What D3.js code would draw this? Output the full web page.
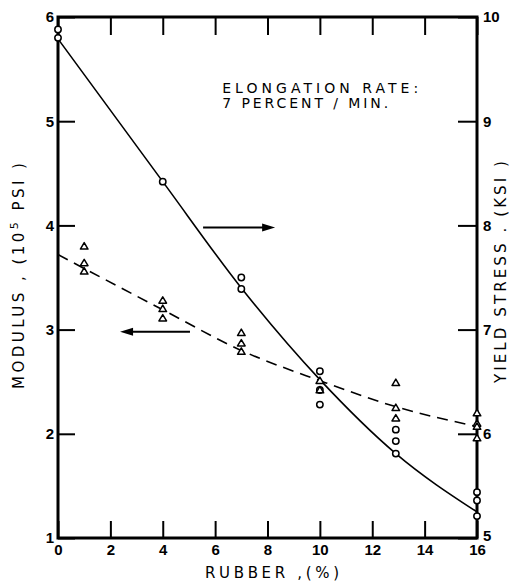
<!DOCTYPE html>
<html>
<head>
<meta charset="utf-8">
<script src="https://cdn.jsdelivr.net/npm/d3@7"></script>
<style>
  body { margin: 0; background: #fff; }
  svg { display: block; }
</style>
</head>
<body>
<div id="chart"></div>
<script>
// data
const rubberTicks = [0, 2, 4, 6, 8, 10, 12, 14, 16];
const modulusTicks = [1, 2, 3, 4, 5, 6];
const stressTicks = [5, 6, 7, 8, 9, 10];

// yield stress (ksi), circles, right axis
const stressPoints = [
  [0, 9.88], [0, 9.80],
  [4, 8.42],
  [7, 7.50], [7, 7.39],
  [10, 6.60], [10, 6.42], [10, 6.28],
  [12.9, 6.04], [12.9, 5.93], [12.9, 5.81],
  [16, 5.44], [16, 5.36], [16, 5.21]
];
// modulus (10^5 psi), triangles, left axis
const modulusPoints = [
  [1, 3.80], [1, 3.64], [1, 3.56],
  [4, 3.28], [4, 3.20], [4, 3.11],
  [7, 2.97], [7, 2.87], [7, 2.79],
  [10, 2.51], [10, 2.42],
  [12.9, 2.49], [12.9, 2.25], [12.9, 2.15],
  [16, 2.20], [16, 2.10], [16, 2.07], [16, 1.96]
];
// hand drawn fit curves
const stressFit = [[0, 9.79], [4, 8.42], [7, 7.40], [10, 6.52], [12.9, 5.81], [16, 5.25]];
const modulusFit = [[0, 3.72], [4, 3.19], [7, 2.80], [10, 2.51], [12.9, 2.26], [16, 2.07]];

const width = 517, height = 582;
const margin = {top: 17, right: 40, bottom: 44, left: 58};

const svg = d3.select("#chart").append("svg")
    .attr("width", width)
    .attr("height", height)
    .attr("font-family", "'DejaVu Sans', 'Liberation Sans', sans-serif");

const x = d3.scaleLinear().domain([0, 16]).range([margin.left, width - margin.right]);
const yL = d3.scaleLinear().domain([1, 6]).range([height - margin.bottom, margin.top]);
const yR = d3.scaleLinear().domain([5, 10]).range([height - margin.bottom, margin.top]);

const fmt = d3.format("d");

const tickFont = g => g
    .call(g => g.select(".domain").remove())
    .call(g => g.selectAll(".tick line").attr("stroke", "#000").attr("stroke-width", 2))
    .call(g => g.selectAll(".tick text")
        .attr("fill", "#000")
        .attr("font-family", "'Liberation Sans', Arial, sans-serif")
        .attr("font-size", 15)
        .attr("font-weight", "bold"));

// axes, ticks point inward
svg.append("g")
    .attr("transform", `translate(0,${yL(1)})`)
    .call(d3.axisBottom(x).tickValues(rubberTicks).tickFormat(fmt).tickSizeInner(-17).tickSizeOuter(0).tickPadding(6))
    .call(tickFont);

svg.append("g")
    .attr("transform", `translate(0,${yL(6)})`)
    .call(d3.axisTop(x).tickValues(rubberTicks).tickFormat("").tickSizeInner(-18).tickSizeOuter(0))
    .call(tickFont);

svg.append("g")
    .attr("transform", `translate(${x(0)},0)`)
    .call(d3.axisLeft(yL).tickValues(modulusTicks).tickFormat(fmt).tickSizeInner(-17).tickSizeOuter(0).tickPadding(4))
    .call(tickFont);

svg.append("g")
    .attr("transform", `translate(${x(16)},0)`)
    .call(d3.axisRight(yR).tickValues(stressTicks).tickFormat(fmt).tickSizeInner(-19).tickSizeOuter(0).tickPadding(6))
    .call(tickFont)
    .call(g => g.selectAll(".tick text").filter(d => d === 5).attr("y", -2));

// frame
svg.append("rect")
    .attr("x", x(0))
    .attr("y", yL(6))
    .attr("width", x(16) - x(0))
    .attr("height", yL(1) - yL(6))
    .attr("fill", "none")
    .attr("stroke", "#000")
    .attr("stroke-width", 3);

// fit curves
svg.append("path")
    .datum(stressFit)
    .attr("fill", "none")
    .attr("stroke", "#000")
    .attr("stroke-width", 1.6)
    .attr("d", d3.line().curve(d3.curveMonotoneX).x(d => x(d[0])).y(d => yR(d[1])));

svg.append("path")
    .datum(modulusFit)
    .attr("fill", "none")
    .attr("stroke", "#000")
    .attr("stroke-width", 1.6)
    .attr("stroke-dasharray", "11,7")
    .attr("d", d3.line().curve(d3.curveMonotoneX).x(d => x(d[0])).y(d => yL(d[1])));

// markers
svg.append("g")
    .selectAll("circle")
    .data(stressPoints)
    .join("circle")
    .attr("cx", d => x(d[0]))
    .attr("cy", d => yR(d[1]))
    .attr("r", 3.2)
    .attr("fill", "#fff")
    .attr("stroke", "#000")
    .attr("stroke-width", 1.5);

svg.append("g")
    .selectAll("path")
    .data(modulusPoints)
    .join("path")
    .attr("transform", d => `translate(${x(d[0])},${yL(d[1])})`)
    .attr("d", "M0,-3.6L3.8,2.8L-3.8,2.8Z")
    .attr("fill", "#fff")
    .attr("stroke", "#000")
    .attr("stroke-width", 1.5)
    .attr("stroke-linejoin", "round");

// arrows telling which axis each curve uses
function arrow(x0, x1, yPix) {
  const dir = Math.sign(x1 - x0);
  svg.append("line")
      .attr("x1", x0).attr("x2", x1 - dir * 10)
      .attr("y1", yPix).attr("y2", yPix)
      .attr("stroke", "#000")
      .attr("stroke-width", 2);
  svg.append("path")
      .attr("d", `M${x1},${yPix}L${x1 - dir * 13},${yPix - 4}L${x1 - dir * 13},${yPix + 4}Z`)
      .attr("fill", "#000");
}
arrow(x(5.54), x(8.29), yR(7.98));
arrow(x(5.04), x(2.37), yL(2.98));

// annotation
const note = svg.append("g")
    .attr("font-size", 14)
    .attr("fill", "#000");
note.append("text")
    .attr("x", x(6.27)).attr("y", 93)
    .attr("textLength", 196).attr("lengthAdjust", "spacing")
    .text("ELONGATION  RATE:");
note.append("text")
    .attr("x", x(6.27)).attr("y", 108)
    .attr("textLength", 166).attr("lengthAdjust", "spacing")
    .text("7 PERCENT / MIN.");

// axis titles
svg.append("text")
    .attr("x", 272).attr("y", 578)
    .attr("text-anchor", "middle")
    .attr("font-size", 15)
    .attr("textLength", 134).attr("lengthAdjust", "spacing")
    .text("RUBBER ,(%)");

const leftTitle = svg.append("text")
    .attr("transform", "translate(24,276) rotate(-90)")
    .attr("text-anchor", "middle")
    .attr("font-size", 15)
    .attr("textLength", 226).attr("lengthAdjust", "spacing");
leftTitle.append("tspan").text("MODULUS , (10");
leftTitle.append("tspan").attr("dy", -6).attr("font-size", 11).text("5");
leftTitle.append("tspan").attr("dy", 6).text(" PSI )");

svg.append("text")
    .attr("transform", "translate(506,272) rotate(-90)")
    .attr("text-anchor", "middle")
    .attr("font-size", 15)
    .attr("textLength", 222).attr("lengthAdjust", "spacing")
    .text("YIELD  STRESS . (KSI )");
</script>
</body>
</html>
